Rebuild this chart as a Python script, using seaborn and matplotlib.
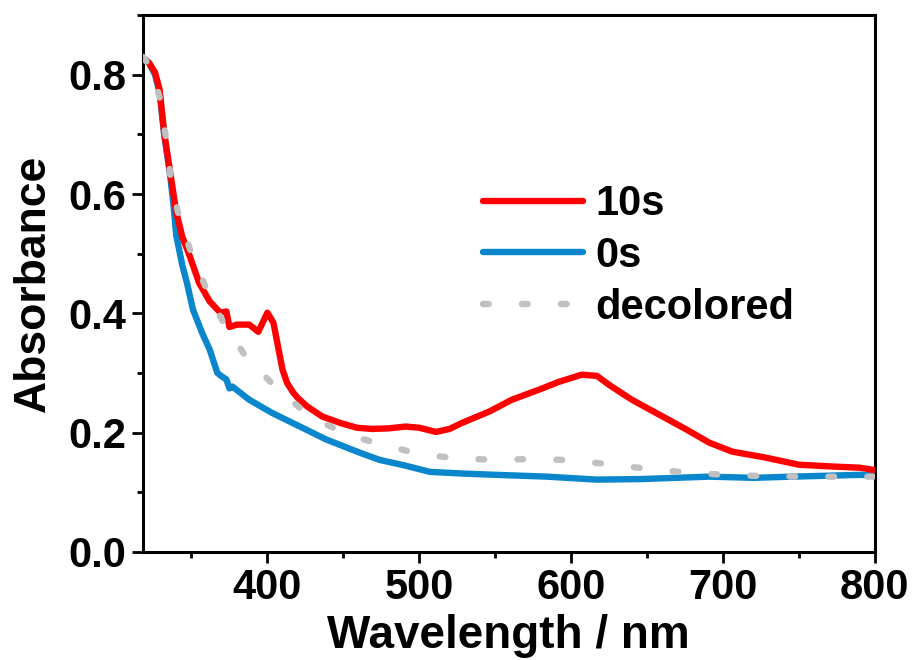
import matplotlib
matplotlib.use('Agg')
import matplotlib.pyplot as plt
import seaborn as sns
from matplotlib.ticker import MultipleLocator

# values
wl_10s = [318, 322, 326, 329, 332, 336, 340, 344, 349, 355, 362, 369, 373, 375, 380,
          388, 394, 400, 404, 407, 410, 413, 417, 420, 426, 436, 448, 459, 469, 480,
          491, 500, 511, 520, 528, 546, 561, 579, 592, 607, 617, 625, 640, 658, 676,
          691, 706, 728, 750, 772, 790, 800]
abs_10s = [0.828, 0.820, 0.804, 0.775, 0.703, 0.636, 0.569, 0.528, 0.495, 0.451, 0.420,
           0.401, 0.403, 0.377, 0.381, 0.381, 0.369, 0.401, 0.384, 0.344, 0.305, 0.283,
           0.267, 0.258, 0.244, 0.227, 0.216, 0.208, 0.206, 0.207, 0.210, 0.208, 0.201,
           0.206, 0.216, 0.235, 0.255, 0.272, 0.285, 0.297, 0.295, 0.280, 0.255, 0.230,
           0.205, 0.183, 0.168, 0.158, 0.146, 0.143, 0.141, 0.137]

wl_0s = [318, 322, 326, 329, 332, 336, 338, 340, 344, 347, 351, 357, 362, 367, 370,
         373, 375, 377, 388, 403, 419, 439, 461, 474, 490, 507, 530, 551, 584, 617,
         647, 691, 720, 746, 790, 800]
abs_0s = [0.828, 0.820, 0.800, 0.770, 0.700, 0.630, 0.585, 0.530, 0.480, 0.451, 0.406,
          0.367, 0.339, 0.300, 0.294, 0.289, 0.274, 0.277, 0.255, 0.233, 0.213, 0.188,
          0.166, 0.154, 0.145, 0.134, 0.131, 0.129, 0.126, 0.121, 0.122, 0.126, 0.124,
          0.126, 0.129, 0.128]

wl_dec = [318, 324, 329, 333, 336, 341, 349, 359, 370, 385, 405, 428, 453, 478, 502,
          528, 553, 578, 603, 627, 651, 676, 701, 726, 751, 776, 800]
abs_dec = [0.830, 0.810, 0.762, 0.697, 0.633, 0.570, 0.507, 0.446, 0.389, 0.330, 0.277,
           0.227, 0.196, 0.178, 0.163, 0.156, 0.154, 0.156, 0.153, 0.146, 0.139, 0.133,
           0.129, 0.127, 0.126, 0.126, 0.126]

sns.set_style('ticks')
plt.rcParams['font.family'] = ['Liberation Sans', 'DejaVu Sans']
plt.rcParams['font.weight'] = 'bold'
plt.rcParams['axes.labelweight'] = 'bold'
plt.rcParams['text.color'] = 'black'
plt.rcParams['axes.labelcolor'] = 'black'
plt.rcParams['xtick.color'] = 'black'
plt.rcParams['ytick.color'] = 'black'

fig = plt.figure(figsize=(9.16, 6.6), dpi=100)
ax = fig.add_axes([0.156, 0.164, 0.799, 0.813])

sns.lineplot(x=wl_10s, y=abs_10s, color='#ff0000', linewidth=4.6, label='10s',
             solid_capstyle='round', solid_joinstyle='round', ax=ax, zorder=3)
sns.lineplot(x=wl_0s, y=abs_0s, color='#0a87cc', linewidth=4.6, label='0s',
             solid_capstyle='round', solid_joinstyle='round', ax=ax, zorder=2)
sns.lineplot(x=wl_dec, y=abs_dec, color='#c0c0c0', linewidth=4.6, label='decolored',
             linestyle=(0, (0.9, 5.2)), dash_capstyle='round', ax=ax, zorder=4)

ax.set_xlim(318, 800)
ax.set_ylim(0, 0.9)
ax.xaxis.set_major_locator(MultipleLocator(100))
ax.xaxis.set_minor_locator(MultipleLocator(50))
ax.yaxis.set_major_locator(MultipleLocator(0.2))
ax.yaxis.set_minor_locator(MultipleLocator(0.1))
ax.set_yticks([0, 0.2, 0.4, 0.6, 0.8])
ax.set_yticklabels(['0.0', '0.2', '0.4', '0.6', '0.8'])

ax.tick_params(which='major', length=8, width=2, labelsize=30, pad=4,
               top=False, right=False, direction='out', colors='black')
ax.tick_params(which='minor', length=4.5, width=2, top=False, right=False,
               direction='out', colors='black')
for s in ax.spines.values():
    s.set_linewidth(2.2)
    s.set_color('black')

ax.set_xlabel('Wavelength / nm', fontsize=33, fontweight='bold', labelpad=4)
ax.set_ylabel('Absorbance', fontsize=32, fontweight='bold', labelpad=10)

ax.legend(loc='upper left', bbox_to_anchor=(0.4645, 0.685), frameon=False,
          fontsize=30, handlelength=2.4, handletextpad=0.3, labelspacing=0.28,
          borderpad=0, borderaxespad=0)

plt.savefig('out.png', dpi=100)
